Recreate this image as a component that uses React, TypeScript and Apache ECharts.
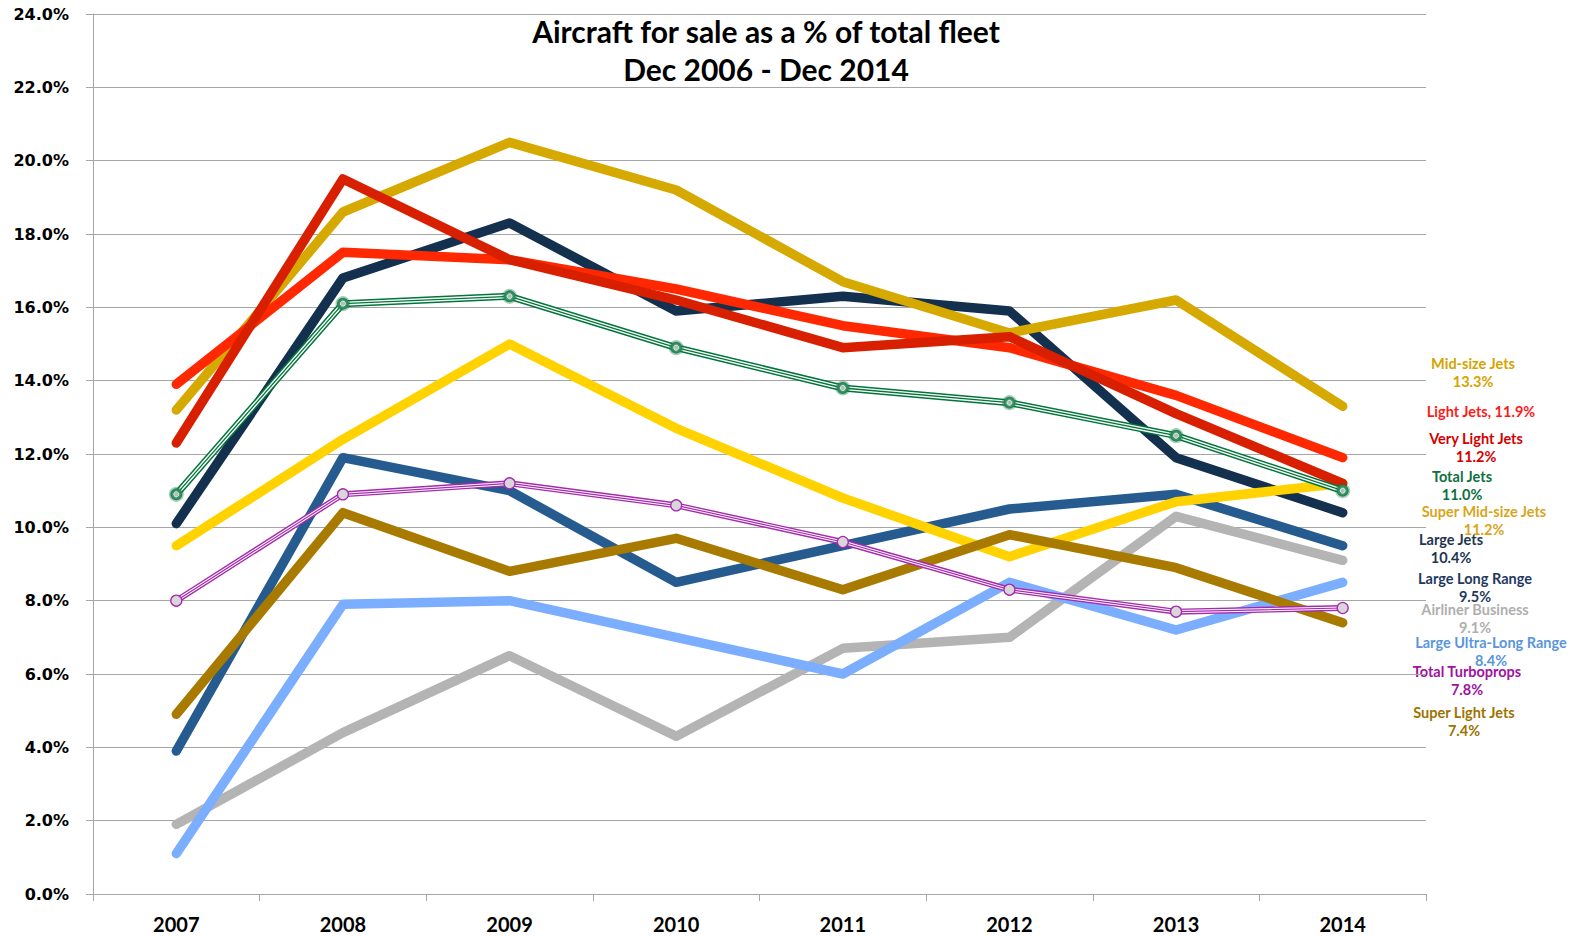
import React, { useEffect, useRef } from "react";
import * as echarts from "echarts";

const years = ["2007", "2008", "2009", "2010", "2011", "2012", "2013", "2014"];
const yTicks = { min: 0, max: 24, interval: 2 };

const midSizeJets = [13.2, 18.6, 20.5, 19.2, 16.7, 15.3, 16.2, 13.3];
const lightJets = [13.9, 17.5, 17.3, 16.5, 15.5, 14.9, 13.6, 11.9];
const veryLightJets = [12.3, 19.5, 17.3, 16.2, 14.9, 15.2, 13.1, 11.2];
const totalJets = [10.9, 16.1, 16.3, 14.9, 13.8, 13.4, 12.5, 11.0];
const largeJets = [10.1, 16.8, 18.3, 15.9, 16.3, 15.9, 11.9, 10.4];
const superMidSizeJets = [9.5, 12.4, 15.0, 12.7, 10.8, 9.2, 10.7, 11.2];
const largeLongRange = [3.9, 11.9, 11.0, 8.5, 9.5, 10.5, 10.9, 9.5];
const superLightJets = [4.9, 10.4, 8.8, 9.7, 8.3, 9.8, 8.9, 7.4];
const airlinerBusiness = [1.9, 4.4, 6.5, 4.3, 6.7, 7.0, 10.3, 9.1];
const largeUltraLongRange = [1.1, 7.9, 8.0, 7.0, 6.0, 8.5, 7.2, 8.5];
const totalTurboprops = [8.0, 10.9, 11.2, 10.6, 9.6, 8.3, 7.7, 7.8];

const titleLines = ["Aircraft for sale as a % of total fleet", "Dec 2006 - Dec 2014"];

// right-side annotation labels
const sideLabels = [
  { lines: ["Mid-size Jets", "13.3%"], color: "#D4A300", x: 1473, y: 363 },
  { lines: ["Light Jets, 11.9%"], color: "#FF1A1A", x: 1481, y: 411 },
  { lines: ["Very Light Jets", "11.2%"], color: "#D40000", x: 1476, y: 438 },
  { lines: ["Total Jets", "11.0%"], color: "#0E7040", x: 1462, y: 476 },
  { lines: ["Super Mid-size Jets", "11.2%"], color: "#D9A51A", x: 1484, y: 511 },
  { lines: ["Large Jets", "10.4%"], color: "#1F3550", x: 1451, y: 539 },
  { lines: ["Large Long Range", "9.5%"], color: "#1F3A5F", x: 1475, y: 578 },
  { lines: ["Airliner Business", "9.1%"], color: "#AFAFAF", x: 1475, y: 609 },
  { lines: ["Large Ultra-Long Range", "8.4%"], color: "#5B95DC", x: 1491, y: 642 },
  { lines: ["Total Turboprops", "7.8%"], color: "#A0139E", x: 1467, y: 671 },
  { lines: ["Super Light Jets", "7.4%"], color: "#9C7300", x: 1464, y: 712 },
];

function thick(name: string, data: number[], color: string) {
  return {
    name,
    type: "line",
    data,
    symbol: "none",
    lineStyle: { color, width: 9.5, cap: "round", join: "round" },
    itemStyle: { color },
  };
}

export default function App() {
  const ref = useRef<HTMLDivElement>(null);
  useEffect(() => {
    if (!ref.current) return;
    const chart = echarts.init(ref.current, null, { renderer: "svg" });

    const graphics: any[] = [];
    titleLines.forEach((t, i) => {
      graphics.push({
        type: "text",
        x: 766,
        y: i === 0 ? 31 : 69,
        style: {
          text: t,
          font: "bold 30px Lato",
          fill: "#000",
          textAlign: "center",
          textVerticalAlign: "middle",
        },
      });
    });
    sideLabels.forEach((l) => {
      l.lines.forEach((t, i) => {
        graphics.push({
          type: "text",
          x: l.x,
          y: l.y + i * 18.5,
          style: {
            text: t,
            font: "bold 14.5px Lato",
            fill: l.color,
            textAlign: "center",
            textVerticalAlign: "middle",
          },
        });
      });
    });

    const green = "#00753A";
    const purple = "#A62AAE";

    chart.setOption({
      animation: false,
      backgroundColor: "#fff",
      grid: { left: 93, right: 153, top: 14, bottom: 42 },
      xAxis: {
        type: "category",
        data: years,
        boundaryGap: true,
        axisLine: { lineStyle: { color: "#A6A6A6", width: 1 } },
        axisTick: { show: true, length: 7, lineStyle: { color: "#A6A6A6" } },
        axisLabel: {
          color: "#000",
          fontFamily: "Lato",
          fontWeight: "bold",
          fontSize: 20,
          margin: 20,
        },
      },
      yAxis: {
        type: "value",
        min: yTicks.min,
        max: yTicks.max,
        interval: yTicks.interval,
        axisLine: { show: true, lineStyle: { color: "#A6A6A6", width: 1 } },
        axisTick: { show: true, length: 7, lineStyle: { color: "#A6A6A6" } },
        splitLine: { lineStyle: { color: "#A6A6A6", width: 1 } },
        axisLabel: {
          color: "#000",
          fontFamily: "DejaVu Sans",
          fontWeight: "bold",
          fontSize: 16,
          margin: 24,
          formatter: (v: number) => v.toFixed(1) + "%",
        },
      },
      graphic: graphics,
      series: [
        thick("Airliner Business", airlinerBusiness, "#B4B4B4"),
        thick("Large Ultra-Long Range", largeUltraLongRange, "#7BAEFF"),
        thick("Large Long Range", largeLongRange, "#255B8E"),
        thick("Large Jets", largeJets, "#14304F"),
        thick("Super Mid-size Jets", superMidSizeJets, "#FFD200"),
        thick("Mid-size Jets", midSizeJets, "#D6A900"),
        thick("Super Light Jets", superLightJets, "#A87A00"),
        thick("Light Jets", lightJets, "#FF2800"),
        thick("Very Light Jets", veryLightJets, "#D81F00"),
        {
          name: "Total Jets",
          type: "line",
          data: totalJets,
          symbol: "none",
          lineStyle: { color: green, width: 7, join: "round" },
        },
        {
          name: "Total Jets gap",
          type: "line",
          data: totalJets,
          symbol: "none",
          lineStyle: { color: "#fff", width: 4, join: "round" },
        },
        {
          name: "Total Jets core",
          type: "line",
          data: totalJets,
          symbol: "circle",
          symbolSize: 12,
          showSymbol: true,
          lineStyle: { color: green, width: 1.3, join: "round" },
          itemStyle: {
            color: "#3E9068",
            borderColor: "rgba(0,117,58,0.35)",
            borderWidth: 3,
          },
        },
        {
          name: "Total Jets dot",
          type: "line",
          data: totalJets,
          symbol: "circle",
          symbolSize: 5,
          showSymbol: true,
          lineStyle: { opacity: 0, width: 0 },
          itemStyle: { color: "#A9C3B5", borderColor: "#E8F0EC", borderWidth: 1 },
        },
        {
          name: "Total Turboprops",
          type: "line",
          data: totalTurboprops,
          symbol: "none",
          lineStyle: { color: purple, width: 6, join: "round" },
        },
        {
          name: "Total Turboprops gap",
          type: "line",
          data: totalTurboprops,
          symbol: "none",
          lineStyle: { color: "#fff", width: 3.2, join: "round" },
        },
        {
          name: "Total Turboprops core",
          type: "line",
          data: totalTurboprops,
          symbol: "circle",
          symbolSize: 11,
          showSymbol: true,
          lineStyle: { color: purple, width: 1.2, join: "round" },
          itemStyle: { color: "#D9D6DA", borderColor: purple, borderWidth: 1.3 },
        },
      ],
    });
    return () => chart.dispose();
  }, []);
  return (
    <div
      ref={ref}
      style={{ position: "fixed", left: 0, top: 0, width: 1579, height: 936 }}
    />
  );
}
